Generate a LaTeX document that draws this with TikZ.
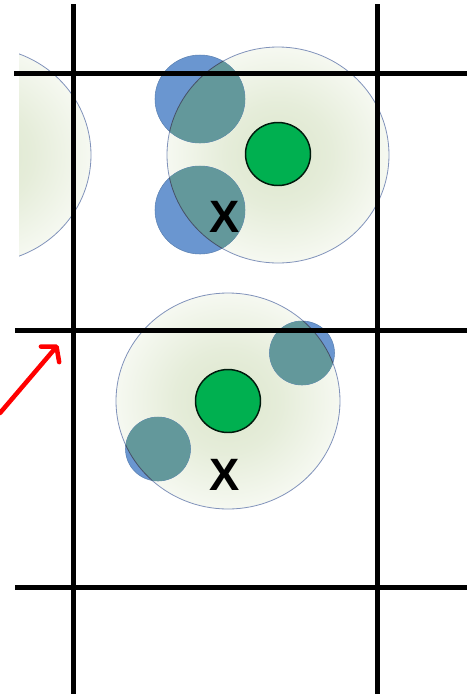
\documentclass[tikz,border=0pt]{standalone}
\usepackage{fontspec}
\setmainfont{Liberation Sans}
\usetikzlibrary{arrows.meta}
\definecolor{glowin}{RGB}{220,230,204}
\definecolor{glowout}{RGB}{252,253,250}
\definecolor{rim}{RGB}{128,146,186}
\definecolor{blu}{RGB}{106,150,208}
\definecolor{tea}{RGB}{99,152,155}
\definecolor{grn}{RGB}{0,176,80}
\pgfdeclareradialshading{glow}{\pgfpoint{0bp}{0bp}}{color(0bp)=(glowin); color(12bp)=(glowin!70!glowout); color(30bp)=(glowout); color(50bp)=(glowout)}

\begin{document}
\begin{tikzpicture}[x=0.75pt,y=0.75pt,
  halo/.style={shading=glow,draw=rim,line width=0.6pt},
  shell/.style={fill=blu,draw=blu!85!black,line width=0.4pt},
  shellin/.style={fill=tea},
  rimin/.style={draw=rim!55!black,line width=0.6pt},
  core/.style={fill=grn,draw=black!85!grn,line width=1.1pt},
  grid/.style={line width=3.75pt,black},
  xlab/.style={font=\fontsize{34}{40}\selectfont\bfseries,inner sep=0pt},
  ptr/.style={red,line width=3.4pt,line cap=round,-{Straight Barb[length=7.5pt,width=18pt,round]}}]
  \useasboundingbox (0,0) rectangle (467,-694);
  % cell centres
  \coordinate (c0) at (-20,-155);
  \coordinate (c1) at (278,-155);
  \coordinate (c2) at (228,-401);
  % halos
  \begin{scope}
    \clip (19,0) rectangle (467,-694);
    \shadedraw[halo] (c0) ellipse (111 and 108);
  \end{scope}
  \shadedraw[halo] (c1) ellipse (111 and 108);
  \shadedraw[halo] (c2) ellipse (112 and 108);
  % shells, teal where they lie over a halo
  \coordinate (s1) at (200,-99);
  \coordinate (s2) at (200,-210);
  \coordinate (s3) at (302,-353);
  \coordinate (s4) at (158,-449);
  \path[shell] (s1) ellipse (45 and 44);
  \path[shell] (s2) ellipse (45 and 44);
  \path[shell] (s3) ellipse (32.5 and 32);
  \path[shell] (s4) ellipse (32.5 and 32);
  \begin{scope}
    \clip (c1) ellipse (111 and 108);
    \path[shellin] (s1) ellipse (45 and 44);
    \path[shellin] (s2) ellipse (45 and 44);
  \end{scope}
  \begin{scope}
    \clip (c2) ellipse (112 and 108);
    \path[shellin] (s3) ellipse (32.5 and 32);
    \path[shellin] (s4) ellipse (32.5 and 32);
  \end{scope}
  \begin{scope}
    \clip (s1) ellipse (45 and 44) (s2) ellipse (45 and 44);
    \path[rimin] (c1) ellipse (111 and 108);
  \end{scope}
  \begin{scope}
    \clip (s3) ellipse (32.5 and 32) (s4) ellipse (32.5 and 32);
    \path[rimin] (c2) ellipse (112 and 108);
  \end{scope}
  % cores
  \path[core] (278,-154) ellipse (32.5 and 31.5);
  \path[core] (228,-401) ellipse (32.5 and 31.5);
  % grid
  \draw[grid] (73,-4) -- (73,-694);
  \draw[grid] (377,-4) -- (377,-694);
  \draw[grid] (14,-73) -- (467,-73);
  \draw[grid] (15,-330) -- (467,-330);
  \draw[grid] (15,-587) -- (467,-587);
  % labels
  \node[xlab] (xa) at (225,-217) {X};
  \node[xlab] (xb) at (225,-475) {X};
  % pointer
  \coordinate (tail) at (0,-413);
  \coordinate (tip) at (58,-345);
  \draw[ptr] (tail) -- (tip);
\end{tikzpicture}
\end{document}
